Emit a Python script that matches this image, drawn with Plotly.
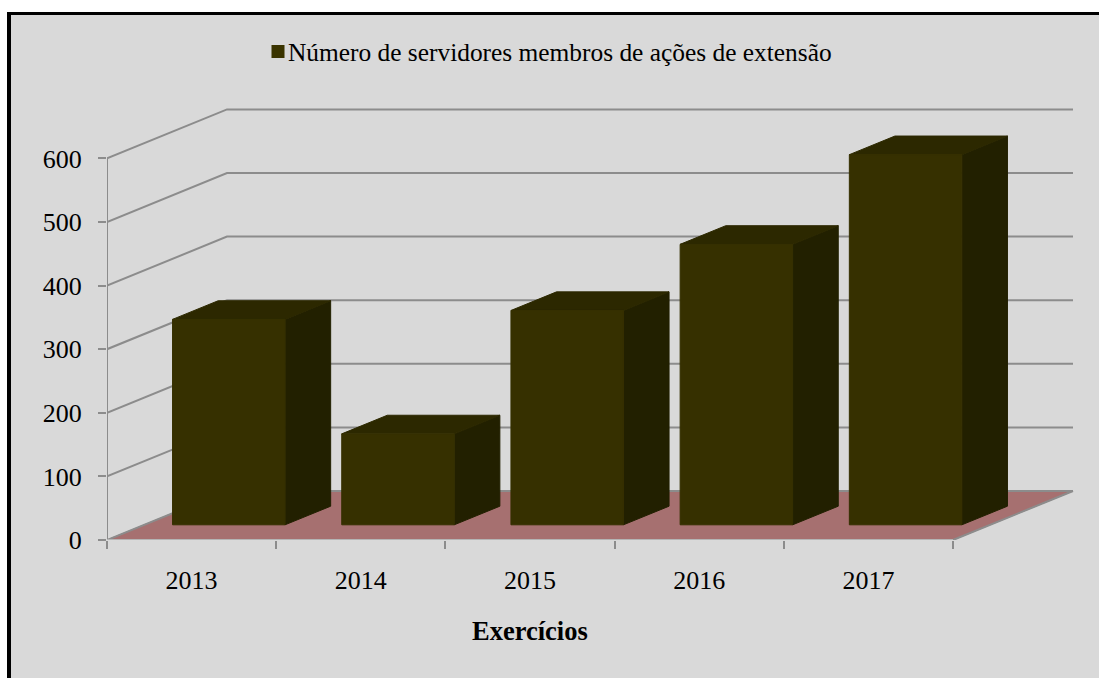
import plotly.graph_objects as go

categories = ["2013", "2014", "2015", "2016", "2017"]
servidores = [323, 143, 337, 441, 582]
y_ticks = [0, 100, 200, 300, 400, 500, 600]
series_name = "Número de servidores membros de ações de extensão"
x_title = "Exercícios"

W, H = 1099, 678
L, R, T, B = 107, 1075, 90, 540
PX_CAT = 169.2
PX_VAL = 0.636
DX = 120 / PX_CAT
DY = 49 / PX_VAL
BAR_W = 0.665
D0, D1 = 0.31, 0.69
GRID = "#8c8c8c"
FONT = "Liberation Serif"


def proj(cat, val, d):
    return cat + d * DX, val + d * DY


def poly(points, color, edge=None):
    xs, ys = zip(*[proj(*p) for p in points + points[:1]])
    return go.Scatter(x=xs, y=ys, mode="lines", fill="toself", fillcolor=color,
                      line=dict(color=edge or color, width=1),
                      showlegend=False, hoverinfo="skip")


def line(points, color=GRID, width=2):
    xs, ys = zip(*[proj(*p) for p in points])
    return go.Scatter(x=xs, y=ys, mode="lines", line=dict(color=color, width=width),
                      showlegend=False, hoverinfo="skip", cliponaxis=False)


def px_x(p):
    return (p - L) / (R - L)


def px_y(p):
    return (B - p) / (B - T)


n = len(categories)
fig = go.Figure()

# floor
fig.add_trace(poly([(0, 0, 0), (n, 0, 0), (n, 0, 1), (0, 0, 1)], "#a67070"))

# walls' grid lines
for v in y_ticks:
    fig.add_trace(line([(0, v, 0), (0, v, 1), (n, v, 1)]))
fig.add_trace(line([(0, 0, 0), (0, y_ticks[-1], 0)]))
fig.add_trace(line([(n, 0, 0), (n, 0, 1)]))
fig.add_trace(line([(0, 0, 0), (n, 0, 0)], "#b4b4b4"))

# bars
for i, v in enumerate(servidores):
    a = i + (1 - BAR_W) / 2
    b = a + BAR_W
    fig.add_trace(poly([(b, 0, D0), (b, 0, D1), (b, v, D1), (b, v, D0)], "#222000"))
    fig.add_trace(poly([(a, v, D0), (b, v, D0), (b, v, D1), (a, v, D1)], "#2c2800"))
    fig.add_trace(poly([(a, 0, D0), (b, 0, D0), (b, v, D0), (a, v, D0)], "#363000"))

# legend entry
fig.add_trace(go.Scatter(x=[None], y=[None], mode="markers", name=series_name,
                         marker=dict(symbol="square", size=13, color="#3a3400"),
                         hoverinfo="skip"))


def rect(x0, x1, y0, y1, color):
    return dict(type="rect", xref="paper", yref="paper", layer="below",
                x0=px_x(x0), x1=px_x(x1), y0=px_y(y1), y1=px_y(y0),
                fillcolor=color, line=dict(width=0))


fig.update_layout(
    width=W, height=H, autosize=False,
    margin=dict(l=L, r=W - R, t=T, b=H - B),
    paper_bgcolor="white", plot_bgcolor="rgba(0,0,0,0)",
    font=dict(family=FONT, size=26, color="black"),
    xaxis=dict(range=[0, (R - L) / PX_CAT], showgrid=False, zeroline=False, showline=False,
               tickvals=[i + 0.5 for i in range(n)], ticktext=categories, ticks="",
               ticklabelstandoff=22, tickfont=dict(size=26),
               minor=dict(tickvals=list(range(n + 1)), ticks="outside", ticklen=8,
                          tickwidth=2, tickcolor=GRID, showgrid=False)),
    yaxis=dict(range=[0, (B - T) / PX_VAL], showgrid=False, zeroline=False, showline=False,
               tickvals=y_ticks, ticks="outside", ticklen=8, tickwidth=2, tickcolor=GRID,
               ticklabelstandoff=11, tickfont=dict(size=26)),
    legend=dict(x=px_x(248), xanchor="left", y=px_y(52), yanchor="middle",
                bgcolor="rgba(0,0,0,0)", font=dict(size=25.4), itemwidth=30),
    shapes=[
        rect(7, W + 20, 12, H + 20, "#d9d9d9"),
        rect(7, 11, 12, H + 20, "black"),
        rect(7, W + 20, 12, 15, "black"),
    ],
    annotations=[
        dict(x=2.5, xref="x", y=px_y(631), yref="paper", text=f"<b>{x_title}</b>",
             showarrow=False, font=dict(size=26.5), xanchor="center", yanchor="middle"),
    ],
)

fig.write_html(
    "out.html",
    config=dict(displayModeBar=False),
    post_script="document.body.style.margin='0';document.body.style.overflow='hidden';"
                "document.querySelectorAll('.legendsymbols').forEach(function(e){e.setAttribute('transform','translate(10,0)');});",
)
